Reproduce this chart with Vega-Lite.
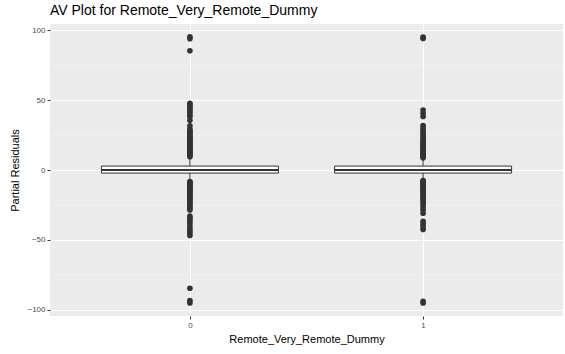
{
  "$schema": "https://vega.github.io/schema/vega-lite/v6.json",
  "width": 513,
  "height": 292,
  "autosize": "none",
  "padding": {"left": 50, "top": 24, "right": 2, "bottom": 38},
  "background": "white",
  "config": {
    "font": "Liberation Sans",
    "view": {"fill": "#EBEBEB", "stroke": null},
    "axis": {
      "domain": false,
      "grid": true,
      "gridColor": "#FFFFFF",
      "gridWidth": 1.1,
      "tickColor": "#333333",
      "tickSize": 3,
      "tickWidth": 1,
      "labelColor": "#4D4D4D",
      "labelFontSize": 8,
      "labelPadding": 2,
      "titleColor": "#000000",
      "titleFontSize": 11,
      "titleFontWeight": "normal"
    }
  },
  "title": {
    "text": "AV Plot for Remote_Very_Remote_Dummy",
    "anchor": "start",
    "frame": "group",
    "fontSize": 14,
    "fontWeight": "normal",
    "color": "#000000",
    "offset": 6
  },
  "datasets": {
    "boxes": [
      {"group": "0", "lower": -8, "q1": -2.2, "median": 0, "q3": 2.8, "upper": 8.5},
      {"group": "1", "lower": -7.2, "q1": -2.2, "median": 0, "q3": 2.8, "upper": 8.2}
    ],
    "minor": [{"v": -75}, {"v": -25}, {"v": 25}, {"v": 75}],
    "outliers": [
      {"group": "0", "value": 9.5}, {"group": "0", "value": 10.2}, {"group": "0", "value": 10.9}, {"group": "0", "value": 11.5},
      {"group": "0", "value": 12.3}, {"group": "0", "value": 13}, {"group": "0", "value": 13.8}, {"group": "0", "value": 14.5},
      {"group": "0", "value": 15.3}, {"group": "0", "value": 16.1}, {"group": "0", "value": 17}, {"group": "0", "value": 17.8},
      {"group": "0", "value": 18.6}, {"group": "0", "value": 19.5}, {"group": "0", "value": 20.4}, {"group": "0", "value": 21.3},
      {"group": "0", "value": 22.2}, {"group": "0", "value": 23.1}, {"group": "0", "value": 24}, {"group": "0", "value": 25},
      {"group": "0", "value": 26}, {"group": "0", "value": 27}, {"group": "0", "value": 28}, {"group": "0", "value": 29},
      {"group": "0", "value": 31.5}, {"group": "0", "value": 35.5}, {"group": "0", "value": 38}, {"group": "0", "value": 39.5},
      {"group": "0", "value": 41}, {"group": "0", "value": 42.5}, {"group": "0", "value": 44}, {"group": "0", "value": 45.3},
      {"group": "0", "value": 46.5}, {"group": "0", "value": 47.6}, {"group": "0", "value": 85.2}, {"group": "0", "value": 93.8},
      {"group": "0", "value": 95.2},
      {"group": "0", "value": -8.3}, {"group": "0", "value": -9}, {"group": "0", "value": -9.8}, {"group": "0", "value": -10.6},
      {"group": "0", "value": -11.4}, {"group": "0", "value": -12.2}, {"group": "0", "value": -13}, {"group": "0", "value": -13.8},
      {"group": "0", "value": -14.6}, {"group": "0", "value": -15.5}, {"group": "0", "value": -16.4}, {"group": "0", "value": -17.3},
      {"group": "0", "value": -18.2}, {"group": "0", "value": -19.2}, {"group": "0", "value": -20.2}, {"group": "0", "value": -21.3},
      {"group": "0", "value": -22.4}, {"group": "0", "value": -23.5}, {"group": "0", "value": -24.7}, {"group": "0", "value": -26},
      {"group": "0", "value": -27.3}, {"group": "0", "value": -28.5}, {"group": "0", "value": -33}, {"group": "0", "value": -34.5},
      {"group": "0", "value": -36}, {"group": "0", "value": -38}, {"group": "0", "value": -40}, {"group": "0", "value": -42},
      {"group": "0", "value": -43.5}, {"group": "0", "value": -45}, {"group": "0", "value": -46.8}, {"group": "0", "value": -84.5},
      {"group": "0", "value": -93.2}, {"group": "0", "value": -95},
      {"group": "1", "value": 8.7}, {"group": "1", "value": 9.4}, {"group": "1", "value": 10.1}, {"group": "1", "value": 10.9},
      {"group": "1", "value": 11.7}, {"group": "1", "value": 12.5}, {"group": "1", "value": 13.3}, {"group": "1", "value": 14.1},
      {"group": "1", "value": 15}, {"group": "1", "value": 16}, {"group": "1", "value": 17}, {"group": "1", "value": 18},
      {"group": "1", "value": 19}, {"group": "1", "value": 20}, {"group": "1", "value": 21.2}, {"group": "1", "value": 22.5},
      {"group": "1", "value": 24}, {"group": "1", "value": 25.5}, {"group": "1", "value": 27}, {"group": "1", "value": 28.5},
      {"group": "1", "value": 30}, {"group": "1", "value": 31.8}, {"group": "1", "value": 38.2}, {"group": "1", "value": 40.5},
      {"group": "1", "value": 42.8}, {"group": "1", "value": 94}, {"group": "1", "value": 95},
      {"group": "1", "value": -7.6}, {"group": "1", "value": -8.3}, {"group": "1", "value": -9}, {"group": "1", "value": -9.8},
      {"group": "1", "value": -10.6}, {"group": "1", "value": -11.4}, {"group": "1", "value": -12.2}, {"group": "1", "value": -13},
      {"group": "1", "value": -13.9}, {"group": "1", "value": -14.8}, {"group": "1", "value": -15.8}, {"group": "1", "value": -16.8},
      {"group": "1", "value": -17.8}, {"group": "1", "value": -19}, {"group": "1", "value": -20.2}, {"group": "1", "value": -21.5},
      {"group": "1", "value": -23}, {"group": "1", "value": -24.5}, {"group": "1", "value": -26.5}, {"group": "1", "value": -28.5},
      {"group": "1", "value": -30.9}, {"group": "1", "value": -36.6}, {"group": "1", "value": -38.5}, {"group": "1", "value": -40.5},
      {"group": "1", "value": -42.5}, {"group": "1", "value": -93.8}, {"group": "1", "value": -95}
    ]
  },
  "layer": [
    {
      "data": {"name": "minor"},
      "mark": {"type": "rule", "color": "#F5F5F5", "strokeWidth": 0.6},
      "encoding": {
        "y": {
          "field": "v", "type": "quantitative",
          "scale": {"domain": [-104.3, 104.3], "nice": false, "zero": false},
          "axis": {"title": "Partial Residuals", "values": [-100, -50, 0, 50, 100], "titlePadding": 6}
        }
      }
    },
    {
      "data": {"name": "boxes"},
      "mark": {"type": "rule", "color": "#333333", "strokeWidth": 1},
      "encoding": {
        "x": {
          "field": "group", "type": "nominal",
          "scale": {"type": "point", "padding": 0.6},
          "axis": {"title": "Remote_Very_Remote_Dummy", "labelAngle": 0, "titlePadding": 4}
        },
        "y": {"field": "lower", "type": "quantitative"},
        "y2": {"field": "upper"}
      }
    },
    {
      "data": {"name": "boxes"},
      "mark": {"type": "bar", "width": 177, "fill": "#FFFFFF", "stroke": "#333333", "strokeWidth": 1},
      "encoding": {
        "x": {"field": "group", "type": "nominal"},
        "y": {"field": "q1", "type": "quantitative"},
        "y2": {"field": "q3"}
      }
    },
    {
      "data": {"name": "boxes"},
      "mark": {"type": "tick", "orient": "horizontal", "size": 177, "thickness": 2, "color": "#333333", "opacity": 1},
      "encoding": {
        "x": {"field": "group", "type": "nominal"},
        "y": {"field": "median", "type": "quantitative"}
      }
    },
    {
      "data": {"name": "outliers"},
      "mark": {"type": "circle", "size": 32, "color": "#333333", "opacity": 1},
      "encoding": {
        "x": {"field": "group", "type": "nominal"},
        "y": {"field": "value", "type": "quantitative"}
      }
    }
  ]
}
